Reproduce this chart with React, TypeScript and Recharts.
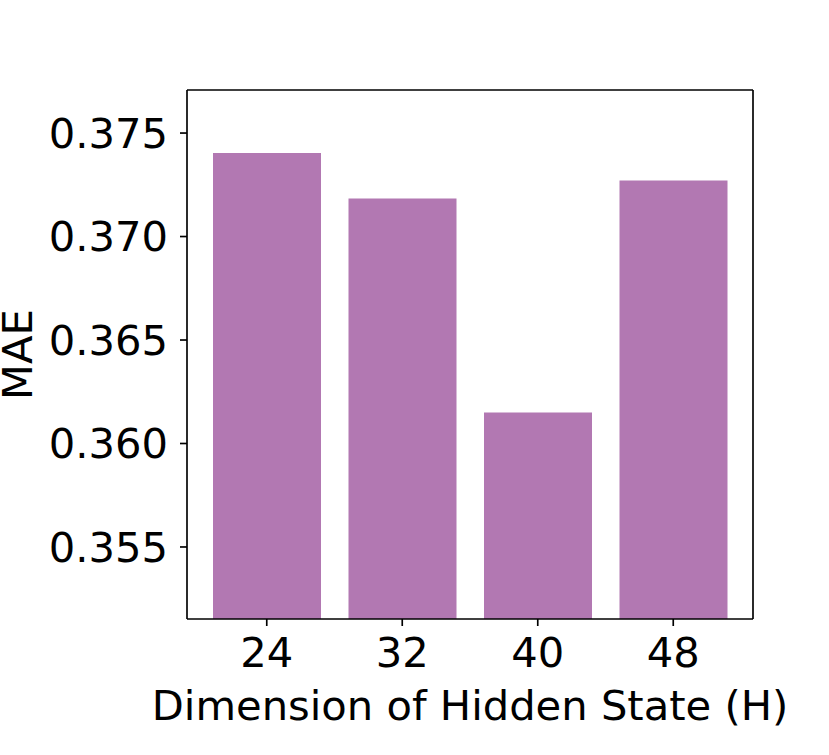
import { BarChart, Bar, XAxis, YAxis, Label } from 'recharts';

const hiddenDims = ['24', '32', '40', '48'];
const maeValues = [0.37403, 0.37184, 0.3615, 0.37271];
const yTicks = [0.355, 0.36, 0.365, 0.37, 0.375];

const BAR_COLOR = '#b278b2';
const FONT = 'DejaVu Sans';
const FS = 41.67;
const LW = 1.67;

const data = hiddenDims.map((h, i) => ({ h, mae: maeValues[i] }));

export default function App() {
  const tickStyle = { fontSize: FS, fontFamily: FONT, fill: '#000' };
  const axisLine = { stroke: '#000', strokeWidth: LW };
  return (
    <div style={{ position: 'absolute', left: 0, top: 0, background: '#fff' }}>
      <BarChart
        width={829}
        height={755}
        data={data}
        margin={{ top: 0, right: 0, bottom: 0, left: 0 }}
      >
        <XAxis
          dataKey="h"
          height={136}
          padding={{ left: 12, right: 12 }}
          tick={tickStyle}
          tickSize={7}
          tickMargin={11}
          tickLine={axisLine}
          axisLine={axisLine}
        >
          <Label
            value="Dimension of Hidden State (H)"
            position="insideBottom"
            offset={35}
            style={{ fontSize: FS, fontFamily: FONT, fill: '#000' }}
          />
        </XAxis>
        <XAxis
          xAxisId="top"
          orientation="top"
          dataKey="h"
          height={90}
          tick={false}
          tickLine={false}
          axisLine={axisLine}
        />
        <YAxis
          width={187}
          domain={[0.35152, 0.37708]}
          ticks={yTicks}
          allowDataOverflow
          tickFormatter={(v: number) => v.toFixed(3)}
          tick={tickStyle}
          tickSize={7}
          tickMargin={12}
          tickLine={axisLine}
          axisLine={axisLine}
        >
          <Label
            content={() => (
              <text
                x={32}
                y={354.5}
                transform="rotate(-90, 32, 354.5)"
                textAnchor="middle"
                fontSize={FS}
                fontFamily={FONT}
                fill="#000"
              >
                MAE
              </text>
            )}
          />
        </YAxis>
        <YAxis
          yAxisId="right"
          orientation="right"
          width={76}
          domain={[0.35152, 0.37708]}
          tick={false}
          tickLine={false}
          axisLine={axisLine}
        />
        <Bar dataKey="mae" fill={BAR_COLOR} barSize={108} isAnimationActive={false} />
      </BarChart>
    </div>
  );
}
